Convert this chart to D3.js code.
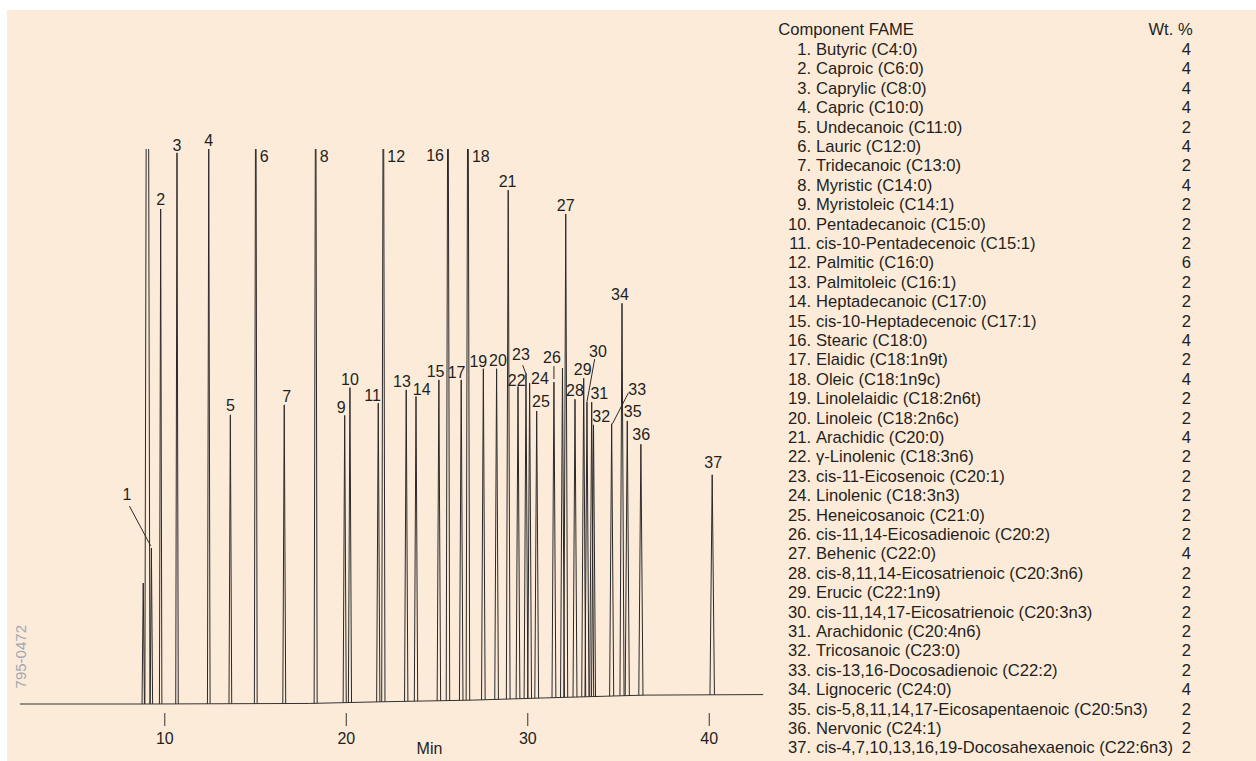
<!DOCTYPE html>
<html>
<head>
<meta charset="utf-8">
<script src="https://cdn.jsdelivr.net/npm/d3@7"></script>
<style>
body { margin: 0; background: #fff; }
text { font-family: "Liberation Sans", Arial, sans-serif; fill: #231f20; }
</style>
</head>
<body>
<div id="chart"></div>
<script>

// peaks in elution order; "" = unlabelled (solvent and small extras)
var peakIds = ["", "", "1", "2", "3", "4", "5", "6", "7", "8", "9", "10", "11", "12", "13", "14", "15", "16", "17", "18",
	"19", "20", "21", "22", "23", "24", "25", "26", "", "27", "28", "29", "30", "31", "32", "33", "34", "35", "36", "37"]
var peakTimes = [8.84, 9.07, 9.29, 9.80, 10.70, 12.45, 13.64, 15.04, 16.61, 18.34, 19.94, 20.23, 21.79, 22.07, 23.33, 23.87, 25.13, 25.63, 26.36, 26.73,
	27.58, 28.31, 28.95, 29.49, 29.93, 30.13, 30.52, 31.47, 31.94, 32.12, 32.63, 33.11, 33.29, 33.55, 33.65, 34.65, 35.22, 35.51, 36.26, 40.19]
// % of full scale, above 100 is off scale
var peakHeights = [21.8, 200, 28.1, 89.2, 99.3, 100, 52.1, 130, 53.9, 130, 52.0, 57.0, 54.2, 130, 56.6, 55.4, 58.4, 130, 58.4, 130,
	60.4, 60.4, 92.6, 57.2, 59.6, 57.8, 52.8, 58.0, 60.5, 88.3, 54.9, 58.7, 54.4, 54.4, 50.3, 50.5, 72.2, 51.0, 46.8, 41.3]

// baseline drift
var baseTimes = [2.05, 9, 18, 22, 27, 31, 36.5, 43]
var baseLevels = [0, 0, 0.1, 0.4, 0.7, 1.1, 1.6, 1.7]

var xTicks = [10, 20, 30, 40]

var components = ["Butyric (C4:0)", "Caproic (C6:0)", "Caprylic (C8:0)", "Capric (C10:0)", "Undecanoic (C11:0)",
	"Lauric (C12:0)", "Tridecanoic (C13:0)", "Myristic (C14:0)", "Myristoleic (C14:1)", "Pentadecanoic (C15:0)",
	"cis-10-Pentadecenoic (C15:1)", "Palmitic (C16:0)", "Palmitoleic (C16:1)", "Heptadecanoic (C17:0)",
	"cis-10-Heptadecenoic (C17:1)", "Stearic (C18:0)", "Elaidic (C18:1n9t)", "Oleic (C18:1n9c)",
	"Linolelaidic (C18:2n6t)", "Linoleic (C18:2n6c)", "Arachidic (C20:0)", "\u03b3-Linolenic (C18:3n6)",
	"cis-11-Eicosenoic (C20:1)", "Linolenic (C18:3n3)", "Heneicosanoic (C21:0)", "cis-11,14-Eicosadienoic (C20:2)",
	"Behenic (C22:0)", "cis-8,11,14-Eicosatrienoic (C20:3n6)", "Erucic (C22:1n9)", "cis-11,14,17-Eicosatrienoic (C20:3n3)",
	"Arachidonic (C20:4n6)", "Tricosanoic (C23:0)", "cis-13,16-Docosadienoic (C22:2)", "Lignoceric (C24:0)",
	"cis-5,8,11,14,17-Eicosapentaenoic (C20:5n3)", "Nervonic (C24:1)", "cis-4,7,10,13,16,19-Docosahexaenoic (C22:6n3)"]
var weightPct = [4, 4, 4, 4, 2, 4, 2, 4, 2, 2, 2, 6, 2, 2, 2, 4, 2, 4, 2, 2, 4, 2, 2, 2, 2, 2, 4, 2, 2, 2, 2, 2, 2, 4, 2, 2, 2]

// label placement relative to the peak apex (px)
var labelLayout = {
	"1": {dx: -24.5, dy: -48, leader: [-22, -42, -0.8, -2.3]},
	"3": {dy: -2}, "4": {dy: -3}, "5": {dy: -4.3}, "7": {dx: 2.4, dy: -3.3},
	"6": {side: "right"}, "8": {side: "right"}, "12": {side: "right"}, "18": {side: "right"}, "16": {side: "left"},
	"9": {dx: -3.4, dy: -2.3}, "10": {dy: -2.7}, "11": {dx: -5.6, dy: -2.3}, "13": {dx: -4.3, dy: -2.7},
	"14": {dx: 5.7, dy: -1.7}, "15": {dx: -3.3, dy: -3.3}, "17": {dx: -4.6, dy: -1.7}, "19": {dx: -5, dy: -2},
	"20": {dx: 1.3, dy: -2.7}, "21": {dx: -0.6, dy: -3}, "22": {dx: -1.3, dy: -1},
	"23": {dx: -5, dy: -13.7, leader: [-3.3, -8, -0.3, 0]},
	"24": {dx: 10.3, dy: 0.7}, "25": {dx: 4.3, dy: -4.3},
	"26": {dx: -2, dy: -18.7, leader: [0, -16, 0, -3]},
	"27": {dy: -2.7}, "28": {dy: -3.6}, "29": {dx: -1, dy: -3},
	"30": {dx: 11, dy: -45.3, leader: [7.7, -43, 0, -0.3]},
	"31": {dx: 7.6, dy: -3}, "32": {dx: 7.7, dy: -3.3},
	"33": {dx: 25.6, dy: -29, leader: [0.8, 0, 16.8, -31]},
	"34": {dx: -2, dy: -3}, "35": {dx: 5.4, dy: -4}, "36": {dx: 0.3, dy: -4}, "37": {dx: 1, dy: -6.7}
}

var W = 1256, H = 761

var svg = d3.select("#chart").append("svg")
	.attr("width", W)
	.attr("height", H)

svg.append("rect")
	.attr("x", 7).attr("y", 10)
	.attr("width", W - 7).attr("height", H - 10)
	.attr("fill", "#fdebda")

var x = d3.scaleLinear().domain([2, 43]).range([19.1, 763.2])
var y = d3.scaleLinear().domain([0, 100]).range([704, 149])
var base = d3.scaleLinear().domain(baseTimes).range(baseLevels).clamp(true)

svg.append("clipPath").attr("id", "clip")
	.append("rect").attr("x", 0).attr("y", y(100)).attr("width", W).attr("height", H)

var plot = svg.append("g").attr("clip-path", "url(#clip)")

var line = d3.line()
	.x(function(d) { return x(d[0]) })
	.y(function(d) { return y(d[1]) })

// baseline
plot.append("path")
	.datum(d3.zip(baseTimes, baseLevels))
	.attr("d", line)
	.attr("fill", "none")
	.attr("stroke", "#333")
	.attr("stroke-width", 1)

// peaks drawn as narrow spikes
var peaks = peakTimes.map(function(t, i) {
	return {id: peakIds[i], t: t, h: peakHeights[i]}
})

function halfWidth(d) {
	if (d.h > 150) return 0.14
	return 0.05 + 0.0018 * d.t
}

plot.selectAll(".peak")
	.data(peaks)
	.enter().append("path")
	.attr("class", "peak")
	.attr("d", function(d) {
		var w = halfWidth(d)
		return line([[d.t - w, base(d.t - w)], [d.t, d.h], [d.t + w, base(d.t + w)]])
	})
	.attr("fill", "none")
	.attr("stroke", "#2a2a2a")
	.attr("stroke-width", 1)

// peak labels
var labelled = peaks.filter(function(d) { return d.id !== "" })

var lab = svg.append("g").attr("font-size", 16)

labelled.forEach(function(d) {
	var L = labelLayout[d.id] || {}
	var px = x(d.t), py = y(Math.min(d.h, 100))
	if (L.side === "right") {
		lab.append("text").attr("x", px + 4).attr("y", py + 12.7).attr("text-anchor", "start").text(d.id)
		return
	}
	if (L.side === "left") {
		lab.append("text").attr("x", px - 4).attr("y", py + 11.7).attr("text-anchor", "end").text(d.id)
		return
	}
	lab.append("text")
		.attr("x", px + (L.dx || 0))
		.attr("y", py + (L.dy == null ? -4 : L.dy))
		.attr("text-anchor", "middle")
		.text(d.id)
	if (L.leader) {
		lab.append("line")
			.attr("x1", px + L.leader[0]).attr("y1", py + L.leader[1])
			.attr("x2", px + L.leader[2]).attr("y2", py + L.leader[3])
			.attr("stroke", "#2a2a2a").attr("stroke-width", 1)
	}
})

// x axis
var axis = svg.append("g")
	.attr("transform", "translate(0,713)")
	.call(d3.axisBottom(x).tickValues(xTicks).tickSize(13).tickPadding(6.6))

axis.select(".domain").remove()
axis.selectAll("line").attr("stroke", "#333")
axis.selectAll("text")
	.attr("font-size", 16)
	.attr("font-family", "Liberation Sans, Arial, sans-serif")
	.attr("fill", "#231f20")

svg.append("text")
	.attr("x", 429.5).attr("y", 754)
	.attr("text-anchor", "middle")
	.attr("font-size", 16)
	.text("Min")

svg.append("text")
	.attr("transform", "translate(26,656.7) rotate(-90)")
	.attr("text-anchor", "middle")
	.attr("font-size", 15)
	.style("fill", "#9ea8b4")
	.text("795-0472")

// component table
var table = svg.append("g").attr("font-size", 16.6)
var rowY = function(i) { return 55 + i * 19.4 }

table.append("text").attr("x", 778.3).attr("y", 35).text("Component FAME")
table.append("text").attr("x", 1192.7).attr("y", 35).attr("text-anchor", "end").text("Wt. %")

components.forEach(function(name, i) {
	table.append("text").attr("x", 811).attr("y", rowY(i)).attr("text-anchor", "end").text((i + 1) + ".")
	table.append("text").attr("x", 816).attr("y", rowY(i)).text(name)
	table.append("text").attr("x", 1191).attr("y", rowY(i)).attr("text-anchor", "end").text(weightPct[i])
})

</script>
</body>
</html>
